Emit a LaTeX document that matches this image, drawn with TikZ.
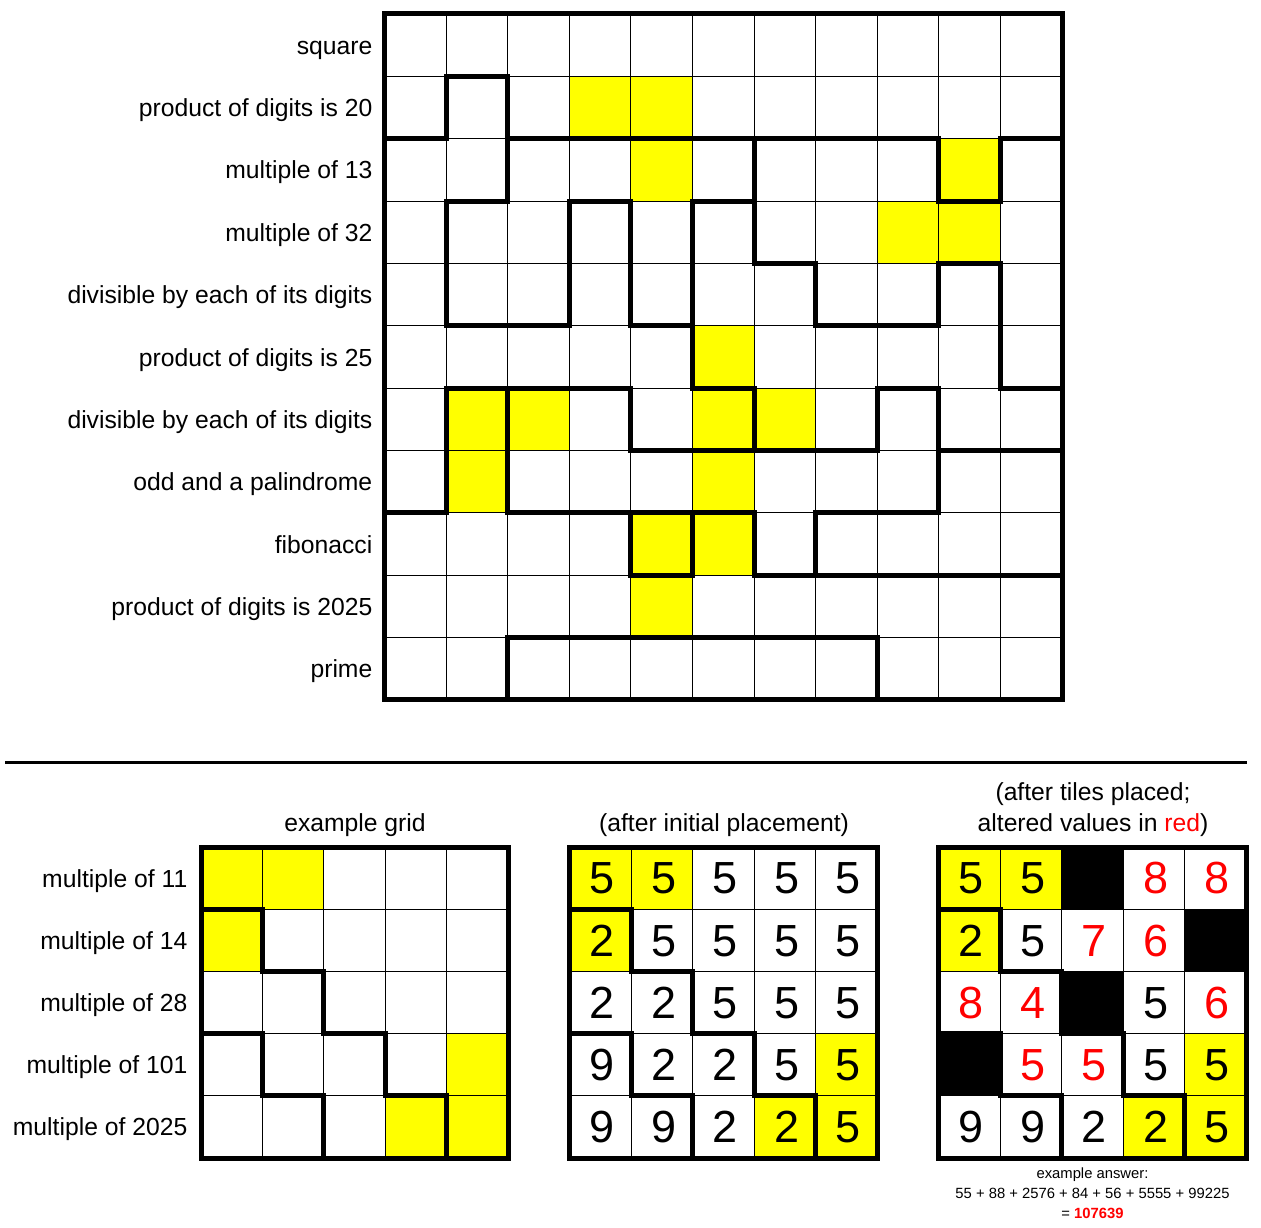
\documentclass[tikz,border=0pt]{standalone}
\usepackage{fontspec}
\setmainfont{Liberation Sans}
\definecolor{yel}{RGB}{255,255,0}
\definecolor{rd}{RGB}{255,0,0}
\begin{document}
\begin{tikzpicture}[x=1pt,y=-1pt,
  thinline/.style={line width=1pt,black},
  thickline/.style={line width=5pt,line cap=rect,black},
  lab/.style={anchor=base east,inner sep=0pt,font=\fontsize{24.7}{30}\selectfont},
  ttl/.style={anchor=base,inner sep=0pt,font=\fontsize{24.7}{30}\selectfont},
  dig/.style={anchor=base,inner sep=0pt,font=\fontsize{45}{50}\selectfont},
  smalltxt/.style={anchor=base,inner sep=0pt,font=\fontsize{14.8}{18}\selectfont}]
\useasboundingbox[fill=white] (0,0) rectangle (1261,1228);

% ---------- big grid ----------
\begin{scope}[shift={(384.5,14)},x=61.6pt,y=-62.36pt]
  \foreach \r/\c in {1/3,1/4,2/4,2/9,3/8,3/9,5/5,6/1,6/2,6/5,6/6,7/1,7/5,8/4,8/5,9/4}
    \fill[yel] (\c,\r) rectangle ++(1,1);
  \foreach \i in {1,...,10} {
    \draw[thinline] (\i,0) -- (\i,11);
    \draw[thinline] (0,\i) -- (11,\i);
  }
  \foreach \j/\a/\b in {1/1/2, 2/0/1, 2/2/9, 2/10/11, 3/1/2, 3/3/4, 3/5/6, 3/9/10,
      4/6/7, 4/9/10, 5/1/3, 5/4/5, 5/7/9, 6/1/4, 6/5/6, 6/8/9, 6/10/11,
      7/4/8, 7/9/11, 8/0/1, 8/2/6, 8/7/9, 9/4/5, 9/6/11, 10/2/8}
    \draw[thickline] (\a,\j) -- (\b,\j);
  \foreach \i/\a/\b in {1/1/2, 1/3/5, 1/6/8, 2/1/3, 2/6/8, 2/10/11, 3/3/5,
      4/3/5, 4/6/7, 4/8/9, 5/3/6, 5/8/9, 6/2/4, 6/6/7, 6/8/9, 7/4/5, 7/8/9,
      8/6/7, 8/10/11, 9/2/3, 9/4/5, 9/6/8, 10/2/3, 10/4/6}
    \draw[thickline] (\i,\a) -- (\i,\b);
  \draw[thickline] (0,0) rectangle (11,11);
\end{scope}

\node[lab] (L0) at (372.5,54.2) {square};
\node[lab] (L1) at (372.5,116.5) {product of digits is 20};
\node[lab] (L2) at (372.5,178.9) {multiple of 13};
\node[lab] (L3) at (372.5,241.3) {multiple of 32};
\node[lab] (L4) at (372.5,303.6) {divisible by each of its digits};
\node[lab] (L5) at (372.5,366.0) {product of digits is 25};
\node[lab] (L6) at (372.5,428.4) {divisible by each of its digits};
\node[lab] (L7) at (372.5,490.7) {odd and a palindrome};
\node[lab] (L8) at (372.5,553.1) {fibonacci};
\node[lab] (L9) at (372.5,615.5) {product of digits is 2025};
\node[lab] (L10) at (372.5,677.8) {prime};

% ---------- separator ----------
\draw[line width=3pt] (5,762) -- (1247,762);

% ---------- small grids ----------
\newcommand\mysmallgrid{%
  \foreach \i in {1,...,4} {
    \draw[thinline] (\i,0) -- (\i,5);
    \draw[thinline] (0,\i) -- (5,\i);
  }
  \foreach \j/\a/\b in {1/0/1, 2/1/2, 3/0/1, 3/2/3, 4/1/2, 4/3/4}
    \draw[thickline] (\a,\j) -- (\b,\j);
  \foreach \i/\a/\b in {1/1/2, 1/3/4, 2/2/3, 2/4/5, 3/3/4, 4/4/5}
    \draw[thickline] (\i,\a) -- (\i,\b);
  \draw[thickline] (0,0) rectangle (5,5);
}
\newcommand\myyellows{%
  \foreach \r/\c in {0/0,0/1,1/0,3/4,4/3,4/4}
    \fill[yel] (\c,\r) rectangle ++(1,1);
}

% grid 1
\begin{scope}[shift={(201,847)},x=61.4pt,y=-62.2pt]
  \myyellows
  \mysmallgrid
\end{scope}
\node[ttl] (T1) at (355,831) {example grid};
\node[lab] (M0) at (187.5,887.1) {multiple of 11};
\node[lab] (M1) at (187.5,949.3) {multiple of 14};
\node[lab] (M2) at (187.5,1011.5) {multiple of 28};
\node[lab] (M3) at (187.5,1073.7) {multiple of 101};
\node[lab] (M4) at (187.5,1135.9) {multiple of 2025};

% grid 2
\begin{scope}[shift={(569.5,847)},x=61.5pt,y=-62.2pt]
  \myyellows
  \mysmallgrid
  \foreach \r/\c/\d in {0/0/5,0/1/5,0/2/5,0/3/5,0/4/5,
                        1/0/2,1/1/5,1/2/5,1/3/5,1/4/5,
                        2/0/2,2/1/2,2/2/5,2/3/5,2/4/5,
                        3/0/9,3/1/2,3/2/2,3/3/5,3/4/5,
                        4/0/9,4/1/9,4/2/2,4/3/2,4/4/5}
    \node[dig] (B-\r-\c) at (\c+0.53,\r+0.755) {\d};
\end{scope}
\node[ttl] (T2) at (724,831) {(after initial placement)};

% grid 3
\begin{scope}[shift={(938.5,847)},x=61.5pt,y=-62.2pt]
  \myyellows
  \foreach \r/\c in {0/2,1/4,2/2,3/0}
    \fill[black] (\c,\r) rectangle ++(1,1);
  \mysmallgrid
  \foreach \r/\c/\d/\col in {0/0/5/black,0/1/5/black,0/3/8/rd,0/4/8/rd,
                        1/0/2/black,1/1/5/black,1/2/7/rd,1/3/6/rd,
                        2/0/8/rd,2/1/4/rd,2/3/5/black,2/4/6/rd,
                        3/1/5/rd,3/2/5/rd,3/3/5/black,3/4/5/black,
                        4/0/9/black,4/1/9/black,4/2/2/black,4/3/2/black,4/4/5/black}
    \node[dig,text=\col] (C-\r-\c) at (\c+0.53,\r+0.755) {\d};
\end{scope}
\node[ttl] (T3a) at (1093,800) {(after tiles placed;};
\node[ttl] (T3b) at (1093,831) {altered values in \textcolor{rd}{red})};

\node[smalltxt] (A1) at (1092.5,1178) {example answer:};
\node[smalltxt] (A2) at (1092.5,1198) {55 + 88 + 2576 + 84 + 56 + 5555 + 99225};
\node[smalltxt] (A3) at (1092.5,1218) {= \textcolor{rd}{\bfseries 107639}};
\end{tikzpicture}
\end{document}
